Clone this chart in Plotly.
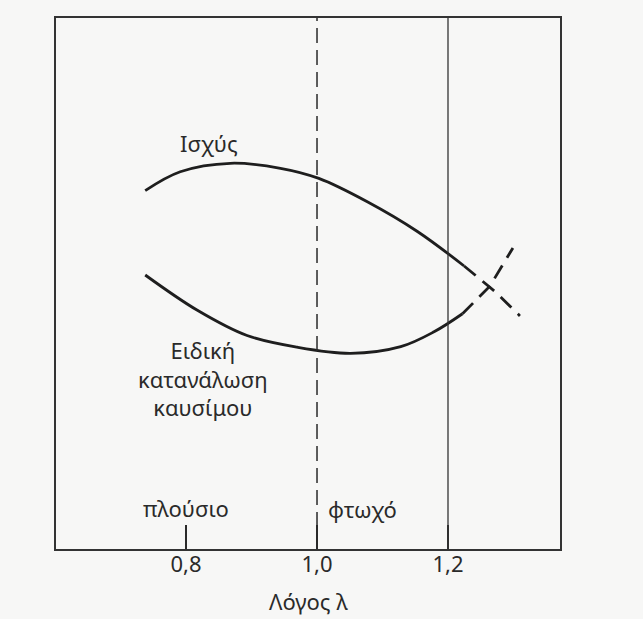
import plotly.graph_objects as go

# Excess-air ratio λ and relative values for the two engine characteristics
power_lambda = [0.7377, 0.7912, 0.8677, 0.9442, 1.0028, 1.0768, 1.1533, 1.2246]
power_value = [67.5, 71.05, 72.64, 71.7, 69.8, 65.4, 59.8, 53.3]
power_ext_lambda = [1.2246, 1.2716, 1.3098]
power_ext_value = [53.3, 48.5, 43.9]

fuel_lambda = [0.7377, 0.8167, 0.8932, 0.9697, 1.0513, 1.1278, 1.1787, 1.2221]
fuel_value = [51.6, 45.0, 40.2, 38.0, 36.85, 38.1, 40.9, 44.3]
fuel_ext_lambda = [1.2221, 1.2639, 1.2991]
fuel_ext_value = [44.3, 49.5, 56.7]

tick_values = [0.8, 1.0, 1.2]
tick_labels = ["0,8", "1,0", "1,2"]
stoich_lambda = 1.0
limit_lambda = 1.2

INK = "#1e1e1e"
TEXT = "#2a2a2a"
BG = "#f7f7f6"
FONT = "Noto Sans"

fig = go.Figure()
# solid measured parts of the curves
for xs, ys in [(power_lambda, power_value), (fuel_lambda, fuel_value)]:
    fig.add_trace(go.Scatter(
        x=xs, y=ys, mode="lines",
        line=dict(color=INK, width=2.8, shape="spline", smoothing=1.0),
        hoverinfo="skip", showlegend=False,
    ))
# dashed extrapolation beyond the lean limit
for xs, ys in [(power_ext_lambda, power_ext_value), (fuel_ext_lambda, fuel_ext_value)]:
    fig.add_trace(go.Scatter(
        x=xs, y=ys, mode="lines",
        line=dict(color=INK, width=2.8, dash="15px,9px"),
        hoverinfo="skip", showlegend=False,
    ))

fig.add_vline(x=stoich_lambda, line=dict(color=TEXT, width=1.5, dash="15px,7px"))
fig.add_vline(x=limit_lambda, line=dict(color="#333333", width=1.3))

labels = [
    ("Ισχύς", 0.8356, 76.5),
    ("Ειδική<br>κατανάλωση<br>καυσίμου", 0.8264, 32.2),
    ("πλούσιο", 0.8, 7.7),
    ("φτωχό", 1.069, 7.6),
]
for text, x, y in labels:
    fig.add_annotation(
        x=x, y=y, xref="x", yref="y", text=text, showarrow=False,
        xanchor="center", yanchor="middle", align="center",
        font=dict(family=FONT, size=22, color=TEXT),
    )

fig.add_annotation(
    x=0.5, xref="paper", y=-0.13, yref="paper", yanchor="bottom",
    text="Λόγος λ", showarrow=False,
    font=dict(family=FONT, size=22, color=TEXT),
)

fig.update_xaxes(
    range=[0.6015, 1.371], tickmode="array", tickvals=tick_values, ticktext=tick_labels,
    ticks="inside", ticklen=24, tickwidth=1.5, tickcolor=TEXT, ticklabelstandoff=-5,
    showline=True, linecolor="#333333", linewidth=1.5, mirror=True,
    showgrid=False, zeroline=False,
    tickfont=dict(family=FONT, size=22, color=TEXT),
)
fig.update_yaxes(
    range=[0, 100], showticklabels=False, ticks="",
    showline=True, linecolor="#333333", linewidth=1.5, mirror=True,
    showgrid=False, zeroline=False,
)
fig.update_layout(
    width=643, height=619,
    margin=dict(l=56, r=83, t=18, b=70),
    paper_bgcolor=BG, plot_bgcolor=BG,
)

fig.write_html("out.html")
